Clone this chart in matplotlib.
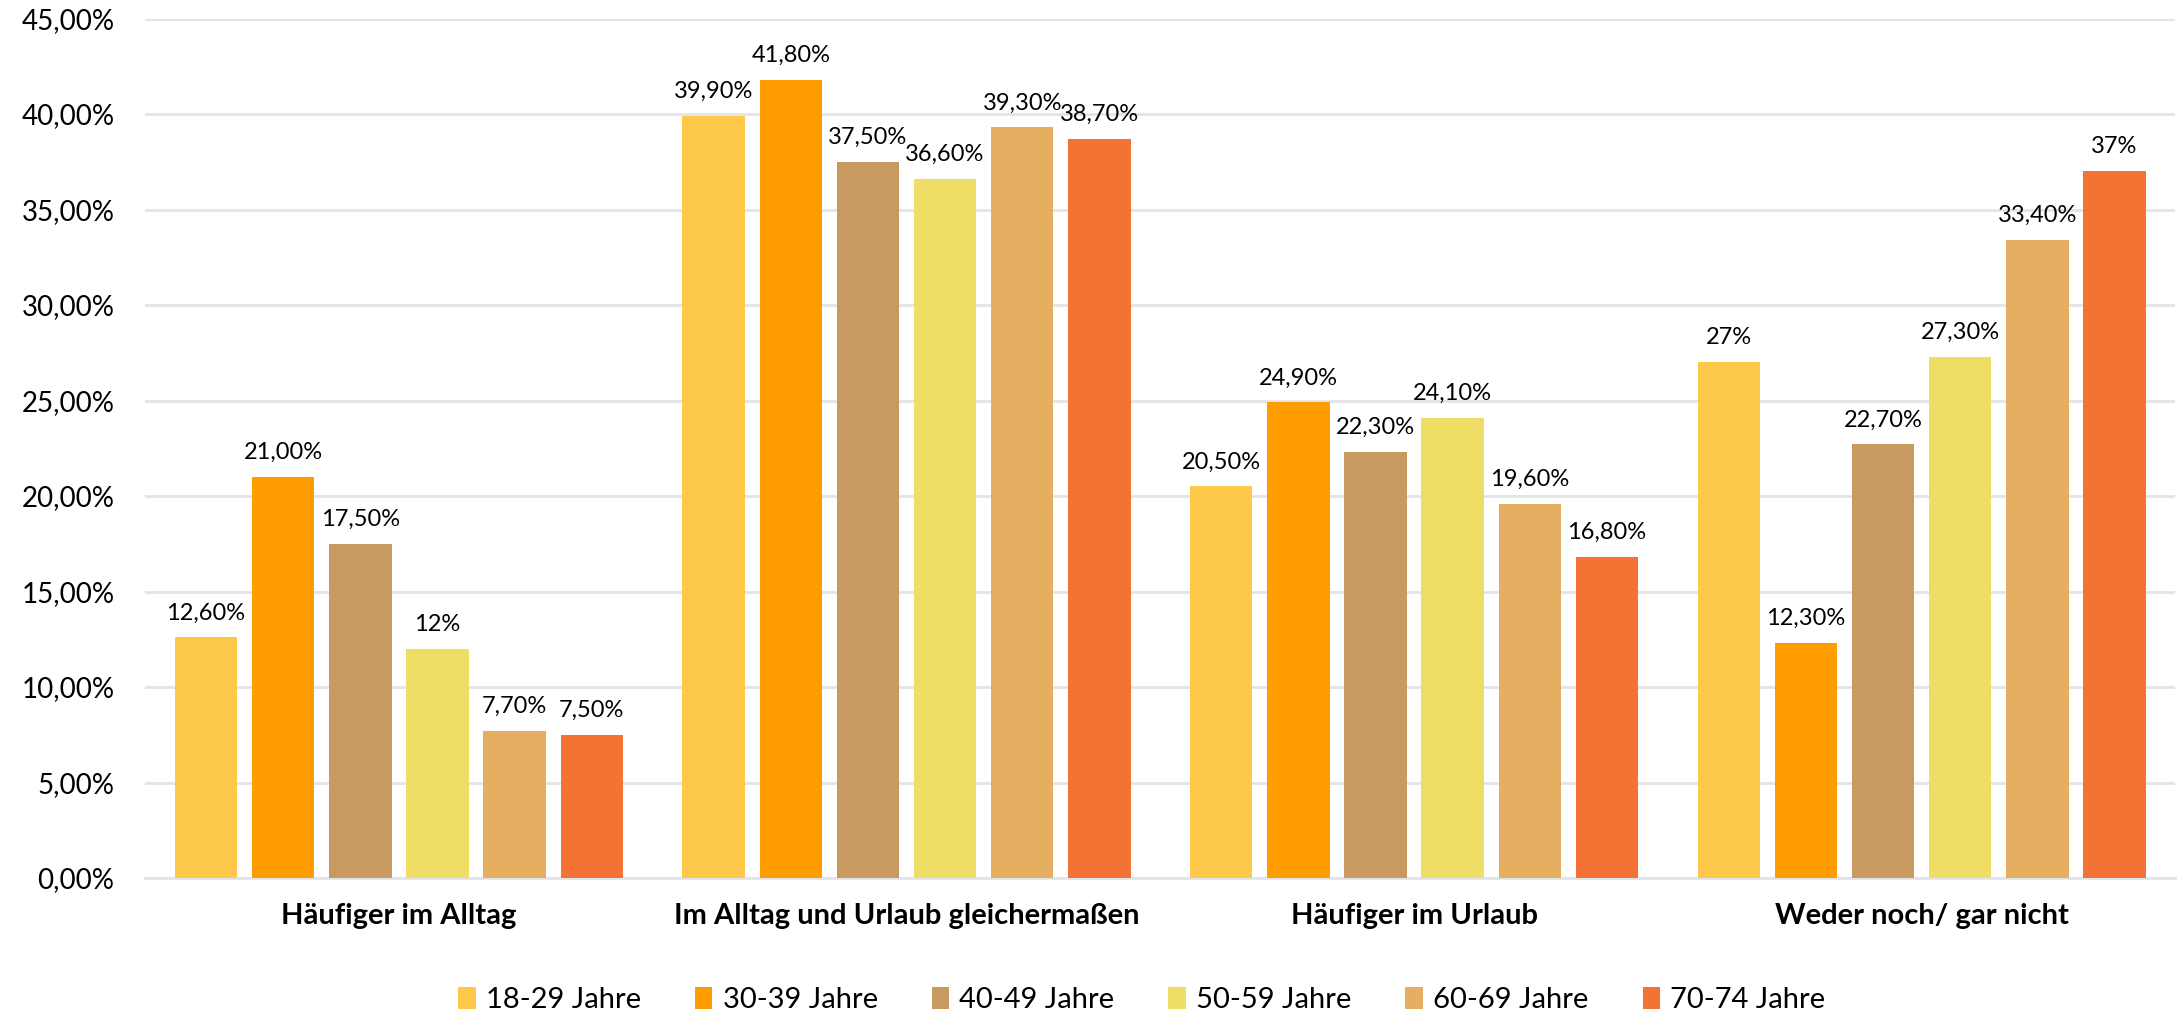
import matplotlib
matplotlib.use("Agg")
import matplotlib.pyplot as plt
import numpy as np

plt.rcParams['font.family'] = ['Lato', 'DejaVu Sans']

categories = ["Häufiger im Alltag", "Im Alltag und Urlaub gleichermaßen",
              "Häufiger im Urlaub", "Weder noch/ gar nicht"]
series_names = ["18-29 Jahre", "30-39 Jahre", "40-49 Jahre",
                "50-59 Jahre", "60-69 Jahre", "70-74 Jahre"]
colors = ["#FEC94B", "#FF9C00", "#C89A62", "#EFDD66", "#E6AE61", "#F47334"]

v_18_29 = [12.6, 39.9, 20.5, 27.0]
v_30_39 = [21.0, 41.8, 24.9, 12.3]
v_40_49 = [17.5, 37.5, 22.3, 22.7]
v_50_59 = [12.0, 36.6, 24.1, 27.3]
v_60_69 = [7.7, 39.3, 19.6, 33.4]
v_70_74 = [7.5, 38.7, 16.8, 37.0]

l_18_29 = ["12,60%", "39,90%", "20,50%", "27%"]
l_30_39 = ["21,00%", "41,80%", "24,90%", "12,30%"]
l_40_49 = ["17,50%", "37,50%", "22,30%", "22,70%"]
l_50_59 = ["12%", "36,60%", "24,10%", "27,30%"]
l_60_69 = ["7,70%", "39,30%", "19,60%", "33,40%"]
l_70_74 = ["7,50%", "38,70%", "16,80%", "37%"]

values = [v_18_29, v_30_39, v_40_49, v_50_59, v_60_69, v_70_74]
labels = [l_18_29, l_30_39, l_40_49, l_50_59, l_60_69, l_70_74]

yticks = [0, 5, 10, 15, 20, 25, 30, 35, 40, 45]
ytick_labels = ["0,00%", "5,00%", "10,00%", "15,00%", "20,00%", "25,00%",
                "30,00%", "35,00%", "40,00%", "45,00%"]

fig = plt.figure(figsize=(21.83, 10.18), dpi=100)
ax = fig.add_axes([0.0665, 0.1375, 0.930, 0.8443])

x = np.arange(len(categories))
pitch = 0.152
width = 0.123
for i, (vals, labs, name, c) in enumerate(zip(values, labels, series_names, colors)):
    pos = x + (i - 2.5) * pitch
    bars = ax.bar(pos, vals, width=width, color=c, label=name, zorder=3)
    for b, lab in zip(bars, labs):
        ax.annotate(lab, (b.get_x() + b.get_width() / 2, b.get_height()),
                    xytext=(0, 10), textcoords="offset points",
                    ha="center", va="bottom", fontsize=17, color="#000000")

ax.set_xlim(-0.5, 3.5)
ax.set_ylim(0, 45)
ax.set_yticks(yticks)
ax.set_yticklabels(ytick_labels, fontsize=20)
ax.set_xticks(x)
ax.set_xticklabels(categories, fontsize=21, fontweight="bold")
ax.tick_params(axis="y", length=0, pad=22)
ax.tick_params(axis="x", length=0, pad=18)
ax.grid(axis="y", color="#E1E4E8", linewidth=2, zorder=0)
for s in ["top", "right", "left"]:
    ax.spines[s].set_visible(False)
ax.spines["bottom"].set_color("#E1E4E8")
ax.spines["bottom"].set_linewidth(2)

fig.legend(loc="center", bbox_to_anchor=(0.523, 0.018), ncol=6, frameon=False,
           fontsize=21, handlelength=0.6, handleheight=0.8, handletextpad=0.35,
           columnspacing=1.85)

fig.savefig("out.png", dpi=100)
